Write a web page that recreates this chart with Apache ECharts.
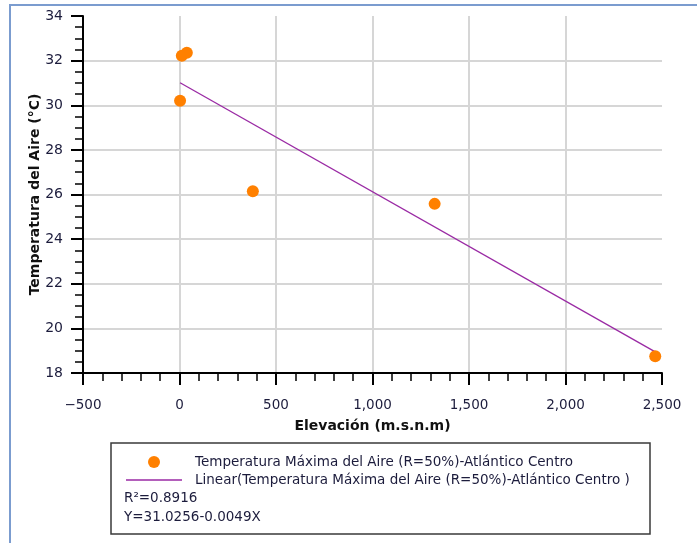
<!DOCTYPE html>
<html>
<head>
<meta charset="utf-8">
<script src="https://cdn.jsdelivr.net/npm/echarts@6/dist/echarts.min.js"></script>
<style>
html,body{margin:0;padding:0;background:#fff;}
#chart{width:697px;height:543px;}
</style>
</head>
<body>
<div id="chart"></div>
<script>
// Data
const elevation = [3, 12, 38, 380, 1322, 2465];          // m.s.n.m
const tempMax   = [30.2, 32.22, 32.35, 26.15, 25.58, 18.75]; // °C
const fitIntercept = 31.0256;
const fitSlope = -0.0049;
const seriesName = 'Temperatura Máxima del Aire (R=50%)-Atlántico Centro';
const fitName = 'Linear(Temperatura Máxima del Aire (R=50%)-Atlántico Centro )';
const r2Text = 'R²=0.8916';
const eqText = 'Y=31.0256-0.0049X';
const xTitle = 'Elevación (m.s.n.m)';
const yTitle = 'Temperatura del Aire (°C)';

const scatterData = elevation.map((x, i) => [x, tempMax[i]]);
const xMinD = Math.min(...elevation), xMaxD = Math.max(...elevation);
const fitData = [[xMinD, fitIntercept + fitSlope * xMinD], [xMaxD, fitIntercept + fitSlope * xMaxD]];

const FONT = 'DejaVu Sans';
const TXT = '#1c1c3c';
const GRID = '#d6d6d6';
const LEG_FONT = '13.5px "DejaVu Sans"';

const chart = echarts.init(document.getElementById('chart'), null, {renderer: 'canvas'});
chart.setOption({
  animation: false,
  backgroundColor: '#fff',
  grid: {left: 83, right: 35, top: 16, bottom: 170, containLabel: false},
  xAxis: {
    type: 'value', min: -500, max: 2500, interval: 500,
    name: xTitle, nameLocation: 'middle', nameGap: 46, nameMoveOverlap: false,
    nameTextStyle: {fontFamily: FONT, fontWeight: 'bold', fontSize: 14, color: '#111'},
    axisLine: {onZero: false, lineStyle: {color: '#000', width: 2}},
    axisTick: {show: true, inside: false, length: 12, lineStyle: {color: '#000', width: 2}},
    minorTick: {show: true, splitNumber: 5, length: 8, lineStyle: {color: '#000', width: 1.5}},
    axisLabel: {fontFamily: FONT, fontSize: 13.5, color: TXT, margin: 25,
      formatter: v => (v < 0 ? '\u2212' : '') + Math.abs(v).toLocaleString('en-US')},
    splitLine: {show: true, lineStyle: {color: ['transparent', GRID, GRID, GRID, GRID, GRID, 'transparent'], width: 2}}
  },
  yAxis: {
    type: 'value', min: 18, max: 34, interval: 2,
    name: yTitle, nameLocation: 'middle', nameGap: 41, nameMoveOverlap: false,
    nameTextStyle: {fontFamily: FONT, fontWeight: 'bold', fontSize: 14, color: '#111'},
    axisLine: {show: true, onZero: false, lineStyle: {color: '#000', width: 2}},
    axisTick: {show: true, inside: false, length: 12, lineStyle: {color: '#000', width: 2}},
    minorTick: {show: true, splitNumber: 4, length: 8, lineStyle: {color: '#000', width: 1.5}},
    axisLabel: {fontFamily: FONT, fontSize: 14, color: TXT, margin: 20},
    splitLine: {show: true, lineStyle: {color: ['transparent', GRID, GRID, GRID, GRID, GRID, GRID, GRID, 'transparent'], width: 2}}
  },
  series: [
    {
      name: fitName, type: 'line', data: fitData, symbol: 'none',
      lineStyle: {color: '#9a2aa4', width: 1.3}, z: 2
    },
    {
      name: seriesName, type: 'scatter', data: scatterData, symbolSize: 12,
      itemStyle: {color: '#ff8000', opacity: 1}, z: 3
    }
  ],
  graphic: [
    {type: 'rect', shape: {x: 10, y: 5, width: 900, height: 900}, style: {fill: 'none', stroke: '#7b9ccf', lineWidth: 2}, silent: true},
    {type: 'rect', shape: {x: 111, y: 443, width: 539, height: 91}, style: {fill: '#fff', stroke: '#3a3a3a', lineWidth: 1.5}},
    {type: 'circle', shape: {cx: 154, cy: 462, r: 6}, style: {fill: '#ff8000'}},
    {type: 'line', shape: {x1: 126, y1: 480, x2: 182, y2: 480}, style: {stroke: '#9a2aa4', lineWidth: 1.3}},
    {type: 'text', x: 195, y: 462, style: {text: seriesName, font: LEG_FONT, fill: TXT, verticalAlign: 'middle'}},
    {type: 'text', x: 195, y: 480, style: {text: fitName, font: LEG_FONT, fill: TXT, verticalAlign: 'middle'}},
    {type: 'text', x: 124, y: 498, style: {text: r2Text, font: LEG_FONT, fill: TXT, verticalAlign: 'middle'}},
    {type: 'text', x: 124, y: 517, style: {text: eqText, font: LEG_FONT, fill: TXT, verticalAlign: 'middle'}}
  ]
});
</script>
</body>
</html>
